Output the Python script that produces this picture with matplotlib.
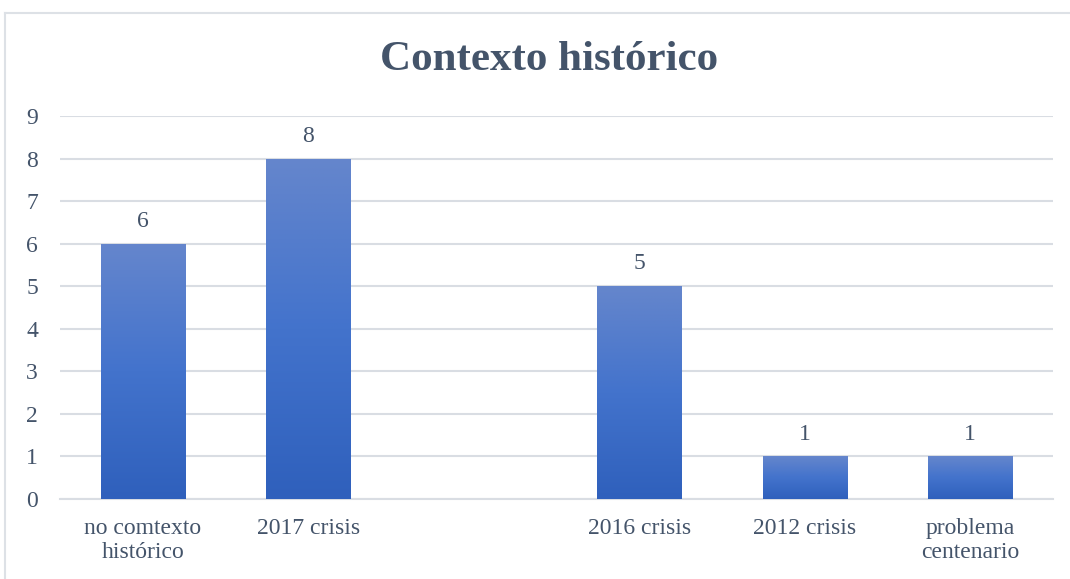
import matplotlib
matplotlib.use("Agg")
import matplotlib.pyplot as plt
import numpy as np
from matplotlib.colors import LinearSegmentedColormap
from matplotlib.lines import Line2D

categories = ["no comtexto\nhistórico", "2017 crisis", "", "2016 crisis", "2012 crisis", "problema\ncentenario"]
values = [6, 8, np.nan, 5, 1, 1]
yticks = list(range(0, 10))

plt.rcParams['font.family'] = ['Liberation Serif', 'DejaVu Serif']

W, H = 1070, 579
fig = plt.figure(figsize=(W / 100, H / 100), dpi=100)
ax = fig.add_axes([60 / W, 1 - 499 / H, (1053 - 60) / W, (499 - 116) / H])

x = np.arange(len(categories))
bar_w = 0.51
cmap = LinearSegmentedColormap.from_list("g", ["#2f60bc", "#4373cc", "#6586cc"])
grad = np.linspace(0, 1, 256).reshape(-1, 1)

for xi, v in zip(x, values):
    if np.isnan(v):
        continue
    bars = ax.bar(xi, v, width=bar_w, color="none", edgecolor="none", zorder=3)
    patch = bars[0]
    im = ax.imshow(grad, extent=[xi - bar_w / 2, xi + bar_w / 2, 0, v], origin="lower",
                   cmap=cmap, aspect="auto", zorder=3)
    im.set_clip_path(patch)
    ax.text(xi, v + 0.28, f"{int(v)}", ha="center", va="bottom", fontsize=17, color="#44546a", zorder=4)

ax.set_aspect("auto")
ax.set_xlim(-0.5, len(categories) - 0.5)
ax.set_ylim(0, 9)

ax.set_yticks(yticks)
ax.set_yticklabels([str(t) for t in yticks], fontsize=17, color="#44546a")
ax.set_xticks(x)
ax.set_xticklabels(categories, fontsize=17, color="#44546a", linespacing=1.15)
ax.tick_params(axis="both", length=0)
ax.tick_params(axis="x", pad=14)
for lbl in ax.get_yticklabels():
    lbl.set_horizontalalignment("center")
ax.tick_params(axis="y", pad=20)
ax.grid(axis="y", color="#d9dde3", linewidth=1.5, zorder=0)
ax.set_axisbelow(True)
for s in ["top", "right", "left"]:
    ax.spines[s].set_visible(False)
ax.spines["bottom"].set_color("#d9dde3")
ax.spines["bottom"].set_linewidth(1.5)

fig.text(549 / W, 1 - 60 / H, "Contexto histórico", ha="center", va="center",
         fontsize=31, fontweight="bold", color="#44546a")

# outer frame
fig.add_artist(Line2D([5 / W, 1], [1 - 13 / H, 1 - 13 / H], color="#dde1e6", linewidth=1.5, transform=fig.transFigure))
fig.add_artist(Line2D([5 / W, 5 / W], [1 - 13 / H, 0], color="#dde1e6", linewidth=1.5, transform=fig.transFigure))

fig.savefig("out.png", dpi=100)
